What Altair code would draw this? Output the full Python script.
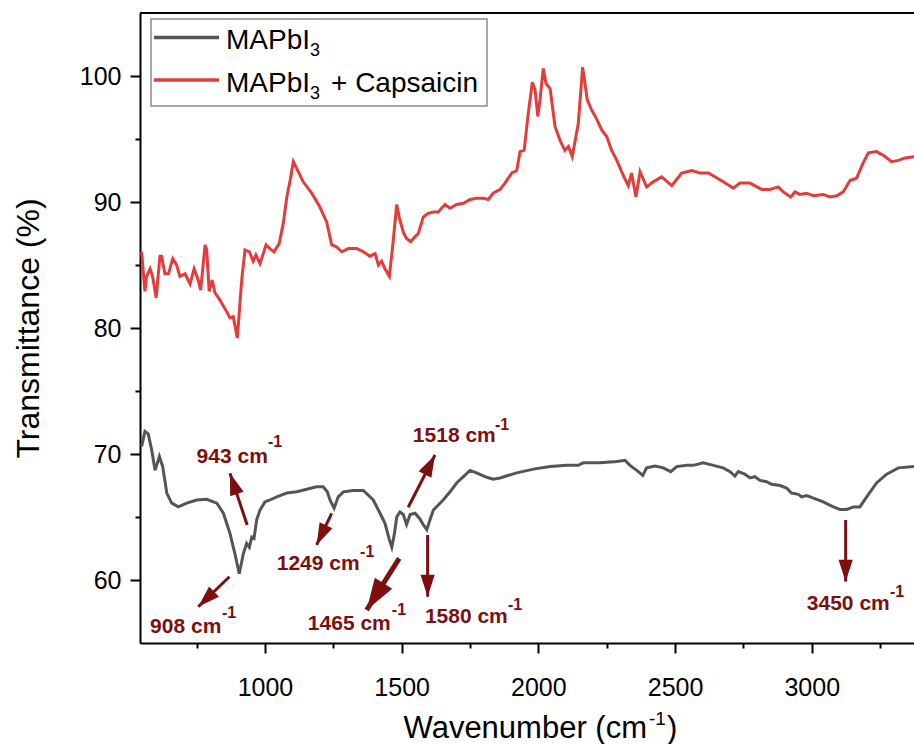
import math
import altair as alt
import pandas as pd

# ---------------- data ----------------
# MAPbI3 (grey)
gray_wn = [549, 561, 573, 586, 598, 614, 626, 641, 659, 683, 714, 750, 787, 824, 848,
           872, 890, 906, 921, 933, 943, 952, 960, 970, 982, 1000, 1018, 1043, 1080,
           1116, 1153, 1189, 1213, 1228, 1238, 1253, 1268, 1287, 1323, 1360, 1396, 1421,
           1439, 1455, 1464, 1473, 1482, 1494, 1506, 1518, 1531, 1549, 1565, 1579, 1592,
           1604, 1616, 1634, 1652, 1677, 1701, 1726, 1750, 1774, 1811, 1835, 1860, 1921,
           1982, 2043, 2104, 2146, 2164, 2225, 2287, 2317, 2335, 2360, 2382, 2396, 2427,
           2457, 2484, 2506, 2543, 2567, 2603, 2640, 2676, 2701, 2719, 2731, 2755, 2774,
           2792, 2811, 2835, 2853, 2884, 2908, 2926, 2951, 2963, 2981, 3006, 3042, 3079,
           3103, 3128, 3152, 3176, 3201, 3237, 3274, 3317, 3374]
gray_t = [70.6, 71.8, 71.6, 70.3, 68.7, 69.8, 69.0, 66.9, 66.1, 65.8, 66.1, 66.35, 66.4, 66.1, 65.3,
          63.7, 62.1, 60.5, 62.1, 62.9, 62.6, 63.4, 63.3, 64.8, 65.55, 66.2, 66.35, 66.6, 66.9,
          67.0, 67.2, 67.4, 67.4, 67.0, 66.35, 65.7, 66.6, 67.0, 67.1, 67.1, 66.35, 65.3,
          64.5, 63.2, 62.6, 63.6, 65.0, 65.4, 65.2, 64.4, 65.2, 65.3, 64.9, 64.4, 64.0,
          64.8, 65.55, 65.95, 66.35, 67.0, 67.7, 68.2, 68.7, 68.5, 68.15, 68.0, 68.1, 68.5,
          68.8, 69.0, 69.1, 69.1, 69.3, 69.3, 69.4, 69.5, 69.1, 68.7, 68.3, 68.9, 69.05,
          68.9, 68.6, 69.0, 69.1, 69.1, 69.3, 69.1, 68.9, 68.6, 68.25, 68.6, 68.4, 68.1,
          68.2, 67.9, 67.8, 67.6, 67.5, 67.3, 66.9, 66.8, 66.6, 66.7, 66.5, 66.2, 65.8,
          65.6, 65.6, 65.8, 65.8, 66.6, 67.7, 68.4, 68.9, 69.0]

# MAPbI3 + Capsaicin (red)
red_wn = [549, 561, 567, 580, 589, 602, 616, 622, 634, 647, 663, 677, 689, 708, 726, 741,
          756, 765, 781, 787, 796, 807, 817, 836, 860, 872, 884, 899, 915, 927, 943, 957,
          967, 982, 1004, 1018, 1033, 1052, 1067, 1080, 1092, 1104, 1140, 1171, 1201, 1226,
          1244, 1262, 1281, 1305, 1336, 1360, 1384, 1403, 1415, 1427, 1439, 1455, 1467,
          1482, 1491, 1506, 1518, 1533, 1549, 1561, 1579, 1597, 1616, 1634, 1646, 1659,
          1677, 1701, 1726, 1750, 1774, 1799, 1817, 1835, 1860, 1878, 1903, 1921, 1933,
          1948, 1963, 1978, 1988, 1998, 2006, 2018, 2028, 2043, 2061, 2079, 2097, 2110,
          2124, 2146, 2162, 2179, 2195, 2213, 2232, 2250, 2268, 2287, 2311, 2329, 2341,
          2357, 2372, 2396, 2420, 2451, 2488, 2524, 2561, 2591, 2622, 2646, 2676, 2713,
          2737, 2774, 2817, 2847, 2878, 2896, 2923, 2939, 2957, 2981, 3006, 3042, 3067,
          3091, 3115, 3140, 3164, 3188, 3207, 3237, 3262, 3292, 3317, 3341, 3374]
red_t = [86.05, 82.9, 84.1, 84.7, 84.1, 82.4, 85.7, 85.7, 84.3, 84.3, 85.5, 85.0, 84.1, 84.3, 83.5, 84.7,
         83.8, 83.0, 86.6, 86.2, 82.9, 83.8, 82.8, 82.2, 81.3, 80.8, 80.9, 79.2, 83.8, 86.2, 86.05, 85.3,
         85.8, 85.1, 86.6, 86.3, 86.05, 86.7, 88.3, 90.4, 91.7, 93.2, 91.6, 90.7, 89.6, 88.4,
         86.6, 86.45, 86.05, 86.3, 86.3, 86.05, 85.7, 85.9, 85.0, 85.3, 84.7, 84.1, 86.45,
         89.8, 88.8, 87.6, 87.1, 86.85, 87.25, 87.5, 88.8, 89.1, 89.2, 89.2, 89.5, 89.8,
         89.5, 89.8, 89.9, 90.2, 90.3, 90.3, 90.2, 90.7, 91.0, 91.5, 92.3, 92.5, 94.0,
         94.1, 97.0, 99.5, 98.9, 96.8, 98.1, 100.6, 99.4, 99.0, 96.0, 94.9, 94.1, 94.4,
         93.6, 96.2, 100.7, 98.1, 97.3, 96.6, 95.7, 95.2, 94.1, 93.3, 92.1, 91.3, 92.3,
         90.4, 92.4, 91.2, 91.6, 92.0, 91.3, 92.3, 92.5, 92.3, 92.3, 92.0, 91.6, 91.1,
         91.5, 91.5, 91.0, 91.0, 91.2, 90.8, 90.4, 90.8, 90.6, 90.7, 90.5, 90.6, 90.4,
         90.5, 90.8, 91.7, 91.9, 93.1, 93.9, 94.0, 93.7, 93.2, 93.3, 93.5, 93.6]

series_names = ["MAPbI3", "MAPbI3 + Capsaicin"]

# peak annotations (wavenumber label, arrow tail -> head, label anchors)
ann_labels = ["908", "943", "1249", "1465", "1518", "1580", "3450"]
ann_tail_x = [870, 935, 1244, 1491, 1524, 1595, 3124]
ann_tail_y = [60.26, 64.37, 65.29, 61.72, 65.77, 63.57, 64.76]
ann_head_x = [756, 872, 1189, 1372, 1622, 1595, 3124]
ann_head_y = [57.88, 68.47, 62.78, 57.62, 69.92, 58.67, 59.87]
ann_text_x = [580, 750, 1043, 1157, 1541, 1585, 2982]
ann_text_y = [55.8, 69.26, 60.8, 56.0, 70.95, 56.6, 57.6]
ann_sup_x = [843, 1011, 1348, 1464, 1841, 1889, 3286]
ann_sup_y = [57.0, 70.56, 61.8, 57.2, 71.9, 57.6, 58.65]

x_ticks = [750, 1000, 1250, 1500, 1750, 2000, 2250, 2500, 2750, 3000, 3250]
y_ticks = [60, 65, 70, 75, 80, 85, 90, 95, 100]

# ---------------- layout / style ----------------
X_DOMAIN = [543, 3374]
Y_DOMAIN = [55, 105]
W, H = 774, 630
FONT = "Liberation Sans, Arial, sans-serif"
GRAY = "#555555"
RED = "#E63B3B"
DARKRED = "#7E0F0F"

df = pd.concat([
    pd.DataFrame({"wn": gray_wn, "T": gray_t, "series": series_names[0]}),
    pd.DataFrame({"wn": red_wn, "T": red_t, "series": series_names[1]}),
], ignore_index=True)

px_per_x = W / (X_DOMAIN[1] - X_DOMAIN[0])
px_per_y = H / (Y_DOMAIN[1] - Y_DOMAIN[0])
angles = []
for tx, ty, hx, hy in zip(ann_tail_x, ann_tail_y, ann_head_x, ann_head_y):
    dx = (hx - tx) * px_per_x
    dy = -(hy - ty) * px_per_y
    angles.append((math.degrees(math.atan2(dx, -dy)) + 360) % 360)

ann = pd.DataFrame({
    "label": ann_labels, "tx": ann_tail_x, "ty": ann_tail_y,
    "hx": ann_head_x, "hy": ann_head_y, "angle": angles,
    "lx": ann_text_x, "ly": ann_text_y, "sx": ann_sup_x, "sy": ann_sup_y,
})
ann["text"] = ann["label"] + " cm"

xscale = alt.Scale(domain=X_DOMAIN, nice=False, zero=False)
yscale = alt.Scale(domain=Y_DOMAIN, nice=False, zero=False)

x_axis = alt.Axis(
    values=x_ticks, format="d", title=None, grid=False,
    labelExpr="datum.value % 500 === 0 ? datum.label : ''",
    tickSize={"condition": {"test": "datum.value % 500 === 0", "value": 10}, "value": 5},
    labelPadding=22,
)
y_axis = alt.Axis(
    values=y_ticks, title="Transmittance (%)", grid=False,
    labelExpr="datum.value % 10 === 0 ? datum.label : ''",
    tickSize={"condition": {"test": "datum.value % 10 === 0", "value": 10}, "value": 5},
    labelPadding=9, titlePadding=34,
)

base = alt.Chart(df)
lines = base.mark_line(strokeWidth=3, clip=True).encode(
    x=alt.X("wn:Q", scale=xscale, axis=x_axis),
    y=alt.Y("T:Q", scale=yscale, axis=y_axis),
    color=alt.Color("series:N", scale=alt.Scale(domain=series_names, range=[GRAY, RED]), legend=None),
    detail="series:N",
)

annb = alt.Chart(ann)
arrow_lines = annb.mark_rule(color=DARKRED).encode(
    x=alt.X("tx:Q", scale=xscale), y=alt.Y("ty:Q", scale=yscale),
    x2="hx:Q", y2="hy:Q",
    strokeWidth=alt.condition("datum.label == '1465'", alt.value(5), alt.value(3)),
)
arrow_heads = annb.mark_point(
    shape="M0,0L0.65,2L-0.65,2Z", filled=True, color=DARKRED, opacity=1, strokeWidth=0,
).encode(
    x=alt.X("hx:Q", scale=xscale), y=alt.Y("hy:Q", scale=yscale),
    angle=alt.Angle("angle:Q", scale=None),
    size=alt.condition("datum.label == '1465'", alt.value(1000), alt.value(480)),
)
ann_text = annb.mark_text(
    align="left", baseline="alphabetic", font=FONT, fontSize=21, fontWeight="bold", color=DARKRED,
).encode(x=alt.X("lx:Q", scale=xscale), y=alt.Y("ly:Q", scale=yscale), text="text:N")
ann_sup = annb.mark_text(
    align="left", baseline="alphabetic", font=FONT, fontSize=16, fontWeight="bold", color=DARKRED,
    text="-1",
).encode(x=alt.X("sx:Q", scale=xscale), y=alt.Y("sy:Q", scale=yscale))

dummy = alt.Chart(pd.DataFrame({"k": [0]}))
top_rule = dummy.mark_rule(color="black", strokeWidth=2).encode(
    x=alt.value(0), x2=alt.value(W), y=alt.value(0))

legend_box = dummy.mark_rect(fill="white", stroke="#8a8a8a", strokeWidth=1.5).encode(
    x=alt.value(11), x2=alt.value(347), y=alt.value(6), y2=alt.value(93))
leg_line1 = dummy.mark_rule(color=GRAY, strokeWidth=3.5).encode(
    x=alt.value(14), x2=alt.value(79), y=alt.value(24.5))
leg_line2 = dummy.mark_rule(color=RED, strokeWidth=3.5).encode(
    x=alt.value(14), x2=alt.value(79), y=alt.value(67))


def txt(s, x, y, size, align="left", **kw):
    return dummy.mark_text(text=s, align=align, baseline="alphabetic", font=FONT,
                           fontSize=size, color="black", **kw).encode(
        x=alt.value(x), y=alt.value(y))


legend_parts = [
    txt("MAPbI", 86, 36, 28), txt("3", 170, 43, 18),
    txt("MAPbI", 86, 79, 28), txt("3", 170, 86, 18), txt("+ Capsaicin", 191, 79, 28),
]
xtitle = [
    txt("Wavenumber (cm", 507, 725, 31, align="right"),
    txt("-1", 509, 712, 19),
    txt(")", 527, 725, 31),
]

chart = alt.layer(
    lines, arrow_lines, arrow_heads, ann_text, ann_sup, top_rule,
    legend_box, leg_line1, leg_line2, *legend_parts, *xtitle,
).properties(
    width=W, height=H,
    autosize=alt.AutoSizeParams(type="none"),
    padding={"left": 140, "top": 13, "right": 0, "bottom": 101},
).configure_view(stroke=None).configure(background="white").configure_axis(
    domainColor="black", domainWidth=2, tickColor="black", tickWidth=2,
    labelFont=FONT, labelFontSize=25, labelColor="black",
    titleFont=FONT, titleFontSize=32, titleFontWeight="normal", titleColor="black",
)

chart.save("out.html", embed_options={"renderer": "svg", "actions": False})
